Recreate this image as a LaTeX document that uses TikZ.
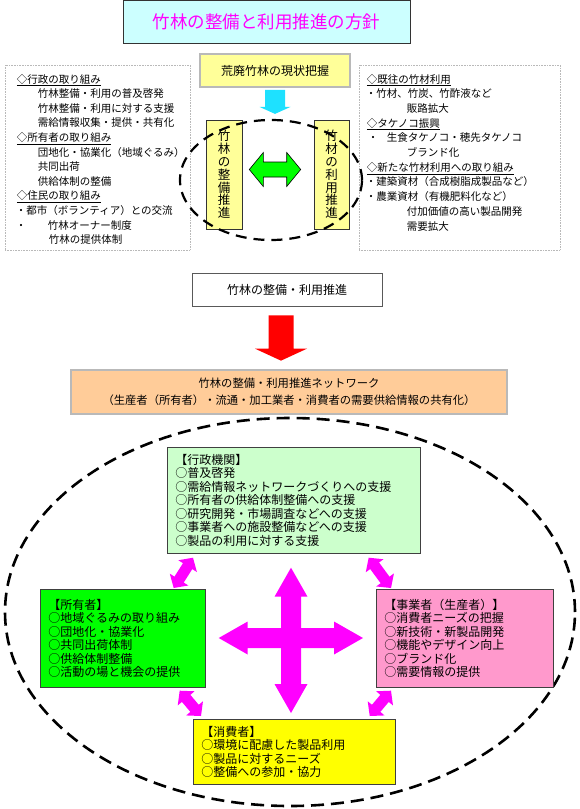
\documentclass[tikz,border=0pt]{standalone}
\usepackage{fontspec}
\setmainfont{Noto Sans CJK JP}
\usetikzlibrary{shapes.geometric,calc,positioning}
\definecolor{titlecyan}{RGB}{204,255,255}
\definecolor{titlemag}{RGB}{255,0,255}
\definecolor{paleyellow}{RGB}{255,255,153}
\definecolor{arrowcyan}{RGB}{30,225,255}
\definecolor{swapgreen}{RGB}{0,255,0}
\definecolor{netorange}{RGB}{255,204,153}
\definecolor{govgreen}{RGB}{204,255,204}
\definecolor{ownergreen}{RGB}{0,255,0}
\definecolor{bizpink}{RGB}{255,153,204}
\definecolor{useryellow}{RGB}{255,255,0}
\definecolor{hubmag}{RGB}{255,0,255}

% block arrow: [style]{from}{to}{half shaft}{half head}{head length}
\newcommand\fatarrow[6][]{%
  \coordinate (fa-base) at ($(#3)!#6!(#2)$);
  \path[#1] ($(#2)!#4!90:(#3)$) -- ($(fa-base)!#4!90:(#3)$) -- ($(fa-base)!#5!90:(#3)$) -- (#3)
    -- ($(fa-base)!#5!-90:(#3)$) -- ($(fa-base)!#4!-90:(#3)$) -- ($(#2)!#4!-90:(#3)$) -- cycle;}
% block arrow with two heads
\newcommand\fatpair[6][]{%
  \coordinate (fp-a) at ($(#2)!#6!(#3)$);
  \coordinate (fp-b) at ($(#3)!#6!(#2)$);
  \path[#1] (#2) -- ($(fp-a)!#5!90:(#3)$) -- ($(fp-a)!#4!90:(#3)$) -- ($(fp-b)!#4!90:(#3)$)
    -- ($(fp-b)!#5!90:(#3)$) -- (#3) -- ($(fp-b)!#5!-90:(#3)$) -- ($(fp-b)!#4!-90:(#3)$)
    -- ($(fp-a)!#4!-90:(#3)$) -- ($(fp-a)!#5!-90:(#3)$) -- cycle;}

\begin{document}
\begin{tikzpicture}[x=1pt, y=-1pt,
 titlebox/.style={draw=black!80, line width=0.8pt, fill=titlecyan, minimum width=287pt, minimum height=43pt, font=\fontsize{17.5}{19}\selectfont, text=titlemag},
 framebox/.style={draw=black!85, double=gray!55, double distance=1.1pt, line width=0.7pt, align=center},
 vertbox/.style={draw=black!80, line width=0.6pt, fill=paleyellow, minimum width=36pt, minimum height=109pt, inner sep=0pt, align=center, font=\fontsize{12.5}{12.8}\selectfont},
 notebox/.style={draw=gray!55, densely dotted, line width=0.6pt, minimum height=185pt},
 notetext/.style={anchor=north west, inner sep=0pt, align=left},
 plainbox/.style={draw=gray!70!black, line width=0.7pt, fill=white, minimum width=190pt, minimum height=33pt, font=\fontsize{12}{14}\selectfont},
 netbox/.style={draw=black!75, line width=0.7pt, anchor=north west, align=left, inner xsep=8pt, inner ysep=3pt, font=\fontsize{12}{13.5}\selectfont},
 dashring/.style={draw, ellipse, inner sep=0pt, line width=2.2pt, dash pattern=on 11pt off 7pt}
]
\useasboundingbox (0,0) rectangle (580,809);

% Title
\node[titlebox] (title) at (266.5,21.5) {竹林の整備と利用推進の方針};

% Upper part
\node[framebox, fill=paleyellow, minimum width=150pt, minimum height=33pt, font=\fontsize{12}{14}\selectfont] (genjo) at (275,70.5) {荒廃竹林の現状把握};

\node[notebox, minimum width=185pt] (leftnote) at (97.5,157.5) {};
\node[notetext, font=\fontsize{10.5}{14.6}\selectfont] (lefttext) at ([xshift=11pt,yshift=-9pt]leftnote.north west) {%
\lineskiplimit=-6pt\relax
\hspace*{1pt}\underline{◇行政の取り組み}\\
\hspace*{22pt}竹林整備・利用の普及啓発\\
\hspace*{22pt}竹林整備・利用に対する支援\\
\hspace*{22pt}需給情報収集・提供・共有化\\
\hspace*{1pt}\underline{◇所有者の取り組み}\\
\hspace*{22pt}団地化・協業化（地域ぐるみ）\\
\hspace*{22pt}共同出荷\\
\hspace*{22pt}供給体制の整備\\
\hspace*{1pt}\underline{◇住民の取り組み}\\
・都市（ボランティア）との交流\\
・\hspace*{21.5pt}竹林オーナー制度\\
\hspace*{33pt}竹林の提供体制};

\node[notebox, minimum width=201pt] (rightnote) at (459.5,157.5) {};
\node[notetext, font=\fontsize{10.5}{14.7}\selectfont] (righttext) at ([xshift=7pt,yshift=-9pt]rightnote.north west) {%
\lineskiplimit=-6pt\relax
\hspace*{1pt}\underline{◇既往の竹材利用}\\
・竹材、竹炭、竹酢液など\\
\hspace*{41pt}販路拡大\\
\hspace*{1pt}\underline{◇タケノコ振興}\\
\hspace*{2pt}・\hspace*{8.5pt}生食タケノコ・穂先タケノコ\\
\hspace*{41pt}ブランド化\\
\hspace*{1pt}\underline{◇新たな竹材利用への取り組み}\\
・建築資材（合成樹脂成製品など）\\
・農業資材（有機肥料化など）\\
\hspace*{41pt}付加価値の高い製品開発\\
\hspace*{41pt}需要拡大};

\node[vertbox] (seibi) at (224,174.5) {竹\\林\\の\\整\\備\\推\\進};
\node[vertbox, minimum width=35pt] (riyo) at (331.5,174.5) {竹\\材\\の\\利\\用\\推\\進};
\node[dashring, minimum width=182pt, minimum height=120pt] (circ) at (271,180) {};

\coordinate (swapl) at ([xshift=7pt,yshift=5pt]seibi.east);
\coordinate (swapr) at ([xshift=-13pt,yshift=5pt]riyo.west);
\fatpair[draw=black, line width=0.6pt, fill=swapgreen]{swapl}{swapr}{7.5pt}{17pt}{14pt}

\coordinate (cyanstart) at ([yshift=-2.5pt]genjo.south);
\coordinate (cyantip) at ([yshift=5pt]circ.north);
\coordinate (cyanend) at (cyanstart |- cyantip);
\fatarrow[fill=arrowcyan]{cyanstart}{cyanend}{10pt}{15.5pt}{7pt}

% Middle
\node[plainbox] (promo) at (287,289.5) {竹林の整備・利用推進};
\node[framebox, fill=netorange, minimum width=436pt, minimum height=44pt, font=\fontsize{11.3}{17}\selectfont] (network) at (289,392) {竹林の整備・利用推進ネットワーク\\（生産者（所有者）・流通・加工業者・消費者の需要供給情報の共有化）};

\coordinate (redtop) at ([xshift=-6pt,yshift=-9pt]promo.south);
\coordinate (netgap) at ([yshift=9pt]network.north);
\coordinate (redtip) at (redtop |- netgap);
\fatarrow[fill=red]{redtop}{redtip}{12.5pt}{26pt}{12pt}

% Network
\node[dashring, line width=2.6pt, dash pattern=on 13pt off 7pt, minimum width=570pt, minimum height=388pt] (ring) at (290,612) {};

\node[netbox, fill=govgreen, text width=237pt, minimum height=106pt] (gyosei) at (167,447) {【行政機関】\\○普及啓発\\○需給情報ネットワークづくりへの支援\\○所有者の供給体制整備への支援\\○研究開発・市場調査などへの支援\\○事業者への施設整備などへの支援\\○製品の利用に対する支援};
\node[netbox, fill=ownergreen, text width=149pt, minimum height=98pt] (shoyu) at (40,589) {【所有者】\\○地域ぐるみの取り組み\\○団地化・協業化\\○共同出荷体制\\○供給体制整備\\○活動の場と機会の提供};
\node[netbox, fill=bizpink, text width=161pt, minimum height=98pt] (jigyo) at (376,589) {【事業者（生産者）】\\○消費者ニーズの把握\\○新技術・新製品開発\\○機能やデザイン向上\\○ブランド化\\○需要情報の提供};
\node[netbox, fill=useryellow, text width=186pt, minimum height=65pt] (shohi) at (193,719) {【消費者】\\○環境に配慮した製品利用\\○製品に対するニーズ\\○整備への参加・協力};

% Cross in the middle
\coordinate (hub) at (291,638);
\coordinate (hubN) at ([yshift=-14pt]hub |- gyosei.south);
\coordinate (hubS) at ([yshift=6pt]hub |- shohi.north);
\coordinate (hubW) at ([xshift=13pt]hub -| shoyu.east);
\coordinate (hubE) at ([xshift=-13pt]hub -| jigyo.west);
\fatpair[fill=hubmag]{hubN}{hubS}{10pt}{16.5pt}{29pt}
\fatpair[fill=hubmag]{hubW}{hubE}{10pt}{16.5pt}{29pt}

% Diagonal links
\coordinate (go) at ([xshift=26pt,yshift=-4pt]gyosei.south west);
\coordinate (og) at ([xshift=-32pt,yshift=1pt]shoyu.north east);
\coordinate (gj) at ([xshift=-52pt,yshift=-4pt]gyosei.south east);
\coordinate (jg) at ([xshift=15pt,yshift=1pt]jigyo.north west);
\coordinate (os) at ([xshift=-26pt,yshift=-3pt]shoyu.south east);
\coordinate (so) at ([xshift=8pt,yshift=3pt]shohi.north west);
\coordinate (js) at ([xshift=15pt,yshift=-3pt]jigyo.south west);
\coordinate (sj) at ([xshift=-26pt,yshift=3pt]shohi.north east);
\fatpair[fill=hubmag]{go}{og}{5.5pt}{11pt}{10pt}
\fatpair[fill=hubmag]{gj}{jg}{5.5pt}{11pt}{10pt}
\fatpair[fill=hubmag]{os}{so}{5.5pt}{11pt}{10pt}
\fatpair[fill=hubmag]{js}{sj}{5.5pt}{11pt}{10pt}

\end{tikzpicture}
\end{document}
